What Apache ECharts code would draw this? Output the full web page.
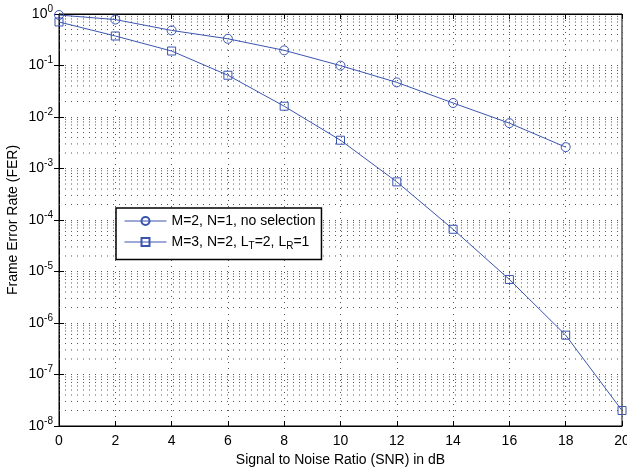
<!DOCTYPE html>
<html><head><meta charset="utf-8">
<script src="https://cdn.jsdelivr.net/npm/echarts@6/dist/echarts.min.js"></script>
<style>html,body{margin:0;padding:0;background:#fff}#c{width:627px;height:469px}</style>
</head><body><div id="c"></div>
<script>
const snr = [0, 2, 4, 6, 8, 10, 12, 14, 16, 18, 20];
const ferNoSel = [0.955, 0.78, 0.48, 0.33, 0.197, 0.0995, 0.047, 0.0187, 0.0076, 0.0026];
const ferSel = [0.70, 0.374, 0.191, 0.0647, 0.0162, 0.00354, 5.5e-4, 6.6e-5, 7.0e-6, 5.8e-7, 2.0e-8];
const seriesNames = ['M=2, N=1, no selection', 'M=3, N=2, L_T=2, L_R=1'];
const xTicks = [0, 2, 4, 6, 8, 10, 12, 14, 16, 18, 20];
const minorMantissas = [2, 3, 4, 5, 6, 7, 8, 9];
const decadeExps = [-8, -7, -6, -5, -4, -3, -2, -1];

const blue = '#3a55b0';
const font = 'Liberation Sans';
const FS = 14;

const chart = echarts.init(document.getElementById('c'), null, {renderer: 'canvas'});
const dotStyle = {color: '#555', type: [1, 5], width: 1};
const gridDot = {show: true, lineStyle: dotStyle};

const minorSeries = [];
decadeExps.forEach(k => minorMantissas.forEach(m => {
  const v = +(m * Math.pow(10, k)).toPrecision(3);
  minorSeries.push({
    type: 'line', silent: true, symbol: 'none', z: 1,
    data: [[snr[0], v], [snr[snr.length - 1], v]],
    lineStyle: dotStyle, emphasis: {disabled: true}, tooltip: {show: false}
  });
}));

chart.setOption({
  animation: false,
  grid: {left: 59, right: 5, top: 14, bottom: 43, show: true, borderColor: '#000', borderWidth: 1, outerBoundsMode: 'none', containLabel: false},
  legend: {
    left: 116, top: 208, orient: 'vertical', itemWidth: 42, itemHeight: 10, itemGap: 7,
    backgroundColor: '#fff', borderColor: '#000', borderWidth: 1.5, padding: [6, 6, 8, 8],
    lineStyle: {width: 1},
    textStyle: {fontFamily: font, fontSize: FS, color: '#000',
      rich: {a: {fontFamily: font, fontSize: FS, color: '#000'}, s: {fontFamily: font, fontSize: 10, color: '#000', padding: [9, 0, 0, 0]}}},
    formatter: n => n === seriesNames[1] ? '{a|M=3, N=2, L}{s|T}{a|=2, L}{s|R}{a|=1}' : '{a|' + n + '}',
    data: seriesNames
  },
  xAxis: [{
    type: 'value', min: 0, max: 20, interval: 2, position: 'bottom',
    name: 'Signal to Noise Ratio (SNR) in dB', nameLocation: 'middle', nameGap: 27, nameMoveOverlap: false,
    nameTextStyle: {fontFamily: font, fontSize: FS, color: '#000'},
    axisLine: {show: true, lineStyle: {color: '#000', width: 1}},
    axisTick: {inside: true, length: 5, lineStyle: {color: '#000'}},
    axisLabel: {fontFamily: font, fontSize: FS, color: '#000', margin: 8, formatter: v => xTicks.includes(v) ? String(v) : ''},
    splitLine: gridDot
  }, {
    type: 'value', min: 0, max: 20, interval: 2, position: 'top',
    axisLine: {show: true, lineStyle: {color: '#000'}},
    axisTick: {inside: true, length: 5, lineStyle: {color: '#000'}},
    axisLabel: {show: false}, splitLine: {show: false}
  }],
  yAxis: [{
    type: 'log', logBase: 10, min: 1e-8, max: 1, position: 'left',
    name: 'Frame Error Rate (FER)', nameLocation: 'middle', nameGap: 39, nameRotate: 90, nameMoveOverlap: false,
    nameTextStyle: {fontFamily: font, fontSize: FS, color: '#000'},
    axisLine: {show: true, lineStyle: {color: '#000'}},
    axisTick: {inside: true, length: 5, lineStyle: {color: '#000'}},
    axisLabel: {
      margin: 6,
      formatter: v => '{b|10}{e|' + Math.round(Math.log10(v)) + '}',
      rich: {b: {fontSize: FS, fontFamily: font, color: '#000'}, e: {fontSize: 10, fontFamily: font, color: '#000', padding: [0, 0, 10, 0]}}
    },
    splitLine: gridDot
  }, {
    type: 'log', logBase: 10, min: 1e-8, max: 1, position: 'right',
    axisLine: {show: true, lineStyle: {color: '#000'}},
    axisTick: {inside: true, length: 5, lineStyle: {color: '#000'}},
    axisLabel: {show: false}, splitLine: {show: false}
  }],
  series: minorSeries.concat([{
    name: seriesNames[0], type: 'line',
    data: ferNoSel.map((v, i) => [snr[i], v]),
    symbol: 'circle', symbolSize: 9, showAllSymbol: true,
    lineStyle: {color: blue, width: 1},
    itemStyle: {color: 'rgba(255,255,255,0)', borderColor: blue, borderWidth: 1},
    z: 3
  }, {
    name: seriesNames[1], type: 'line',
    data: ferSel.map((v, i) => [snr[i], v]),
    symbol: 'rect', symbolSize: 8, showAllSymbol: true,
    lineStyle: {color: blue, width: 1},
    itemStyle: {color: 'rgba(255,255,255,0)', borderColor: blue, borderWidth: 1},
    z: 3
  }])
});
</script></body></html>
